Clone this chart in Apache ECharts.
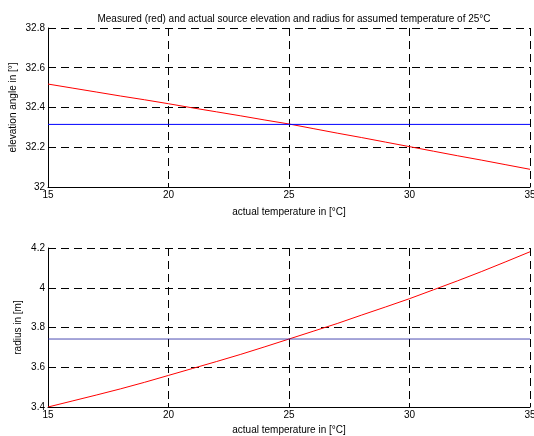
<!DOCTYPE html>
<html>
<head>
<meta charset="utf-8">
<script src="https://cdn.jsdelivr.net/npm/echarts@6/dist/echarts.min.js"></script>
<style>html,body{margin:0;padding:0;background:#fff}#c{width:534px;height:436px}</style>
</head>
<body>
<div id="c"></div>
<script>
const temps = [15,16,17,18,19,20,21,22,23,24,25,26,27,28,29,30,31,32,33,34,35];
const elevMeasured = [32.518,32.498,32.478,32.458,32.439,32.419,32.398,32.378,32.358,32.337,32.317,32.294,32.271,32.249,32.226,32.203,32.180,32.157,32.135,32.112,32.089];
const elevActual = 32.315;
const radiusMeasured = [3.400,3.430,3.460,3.491,3.524,3.559,3.594,3.629,3.665,3.703,3.742,3.781,3.820,3.862,3.903,3.945,3.990,4.035,4.082,4.131,4.181];
const radiusActual = 3.742;
const elevTicks = {min:32, max:32.8, interval:0.2};
const radTicks = {min:3.4, max:4.2, interval:0.2};
const xTicks = {min:15, max:35, interval:5};

const font = 'Liberation Sans, Arial, sans-serif';
const dash = {type:[8,5], color:'#000', width:1};
function xAx(i, gap){
  return {gridIndex:i, type:'value', min:xTicks.min, max:xTicks.max, interval:xTicks.interval,
    name:'actual temperature in [°C]', nameLocation:'middle', nameGap:gap, nameMoveOverlap:false,
    nameTextStyle:{color:'#000', fontFamily:font, fontSize:10},
    axisLine:{show:true, onZero:false, lineStyle:{color:'#000', width:1}},
    axisTick:{show:true, inside:true, length:4, lineStyle:{color:'#000'}},
    axisLabel:{color:'#000', fontFamily:font, fontSize:10, margin:3},
    splitLine:{show:true, lineStyle:dash}};
}
function yAx(i, t, name, gap){
  return {gridIndex:i, type:'value', min:t.min, max:t.max, interval:t.interval,
    name:name, nameLocation:'middle', nameGap:gap, nameMoveOverlap:false,
    nameTextStyle:{color:'#000', fontFamily:font, fontSize:10},
    axisLine:{show:true, lineStyle:{color:'#000', width:1}},
    axisTick:{show:true, inside:true, length:4, lineStyle:{color:'#000'}},
    axisLabel:{color:'#000', fontFamily:font, fontSize:10, margin:3,
      formatter:v=>String(Math.round(v*10)/10)},
    splitLine:{show:true, lineStyle:dash}};
}
const chart = echarts.init(document.getElementById('c'), null, {renderer:'canvas'});
chart.setOption({
  animation:false,
  backgroundColor:'#fff',
  title:{text:'Measured (red) and actual source elevation and radius for assumed temperature of 25°C',
    left:289, top:9, textAlign:'center',
    textStyle:{color:'#000', fontFamily:font, fontSize:10, fontWeight:'normal'}},
  grid:[{left:48, right:4, top:28, height:159, outerBoundsMode:'none', containLabel:false},
        {left:48, right:4, top:248, height:159, outerBoundsMode:'none', containLabel:false}],
  xAxis:[xAx(0, 20), xAx(1, 18)],
  yAxis:[yAx(0, elevTicks, 'elevation angle in [°]', 30), yAx(1, radTicks, 'radius in [m]', 25)],
  series:[
    {type:'line', xAxisIndex:0, yAxisIndex:0, showSymbol:false, symbol:'none',
      data:temps.map((t,i)=>[t, elevMeasured[i]]), lineStyle:{color:'#ff0000', width:1}},
    {type:'line', xAxisIndex:0, yAxisIndex:0, showSymbol:false, symbol:'none',
      data:[[temps[0], elevActual],[temps[temps.length-1], elevActual]], lineStyle:{color:'#0000ff', width:1}},
    {type:'line', xAxisIndex:1, yAxisIndex:1, showSymbol:false, symbol:'none',
      data:temps.map((t,i)=>[t, radiusMeasured[i]]), lineStyle:{color:'#ff0000', width:1}},
    {type:'line', xAxisIndex:1, yAxisIndex:1, showSymbol:false, symbol:'none',
      data:[[temps[0], radiusActual],[temps[temps.length-1], radiusActual]], lineStyle:{color:'#2020a0', width:0.8}}
  ]
});
</script>
</body>
</html>
